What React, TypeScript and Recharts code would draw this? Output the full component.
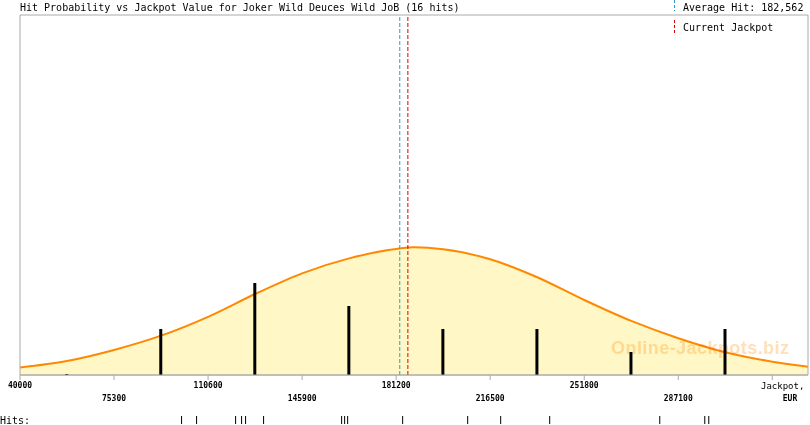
import React from "react";
import {
  ComposedChart,
  Area,
  Bar,
  XAxis,
  YAxis,
  ReferenceLine,
  ReferenceArea,
} from "recharts";

// jackpot axis
const X_MIN = 40000;
const X_MAX = 335800;
const X_TICKS = [40000, 75300, 110600, 145900, 181200, 216500, 251800, 287100, 322400];

// probability curve (in hit units)
const CURVE_X = [
  40000, 57650, 75300, 92950, 110600, 128250, 145900, 163550, 181200, 187800,
  198850, 216500, 234150, 251800, 269450, 287100, 304750, 322400, 335800,
];
const CURVE_P = [
  0.33, 0.61, 1.09, 1.71, 2.53, 3.52, 4.42, 5.07, 5.48, 5.55,
  5.47, 5.03, 4.25, 3.26, 2.35, 1.6, 0.99, 0.58, 0.36,
];

// histogram of hits per bin
const BIN_CENTERS = [57650, 92950, 128250, 163550, 198850, 234150, 269450, 304750];
const BIN_HITS = [0, 2, 4, 3, 2, 2, 1, 2];

// individual hits
const HIT_VALUES = [
  100650, 106280, 120930, 123180, 124680, 131440, 160730, 161860, 162990,
  183640, 208050, 220440, 238840, 280150, 297050, 298550,
];

const AVERAGE_HIT = 182562;
const CURRENT_JACKPOT = 185600;
const Y_MAX = 15.65;

const data = CURVE_X.map((x, i) => {
  const b = BIN_CENTERS.indexOf(x);
  return { x, p: CURVE_P[i], hits: b >= 0 ? BIN_HITS[b] : undefined };
});

const MONO = "'DejaVu Sans Mono', monospace";
const GRAY = "#aaaaaa";

function JackpotTick(props: any) {
  const { x, y, payload } = props;
  const i = X_TICKS.indexOf(payload.value);
  if (i === X_TICKS.length - 1) return null;
  return (
    <text
      x={x}
      y={y + (i % 2 === 0 ? 6 : 18.5)}
      textAnchor="middle"
      fontFamily={MONO}
      fontSize={8}
      fontWeight="bold"
      fill="#000"
    >
      {payload.value}
    </text>
  );
}

function HitTick(props: any) {
  const { x } = props;
  return <line x1={x} x2={x} y1={416} y2={424} stroke="#000" strokeWidth={1} />;
}

export default function App() {
  return (
    <div style={{ position: "relative", width: 810, height: 425, background: "#fff" }}>
      <style>{"body{margin:0}"}</style>
      <ComposedChart
        width={810}
        height={425}
        data={data}
        margin={{ top: 15, right: 2, bottom: 0, left: 20 }}
      >
        <XAxis
          dataKey="x"
          type="number"
          domain={[X_MIN, X_MAX]}
          ticks={X_TICKS}
          interval={0}
          height={35}
          tickSize={5}
          tickMargin={2}
          stroke={GRAY}
          tick={<JackpotTick />}
          allowDataOverflow
        />
        <XAxis
          xAxisId="hits"
          dataKey="x"
          type="number"
          domain={[X_MIN, X_MAX]}
          ticks={HIT_VALUES}
          interval={0}
          height={15}
          axisLine={false}
          tickLine={false}
          tick={<HitTick />}
          allowDataOverflow
        />
        <YAxis hide domain={[0, Y_MAX]} allowDataOverflow />
        <Area
          type="monotone"
          dataKey="p"
          stroke="#ff8800"
          strokeWidth={2}
          fill="#fff8c6"
          fillOpacity={1}
          dot={false}
          activeDot={false}
          isAnimationActive={false}
        />
        <Bar
          dataKey="hits"
          fill="#000"
          barSize={3}
          minPointSize={(v: any) => (v === 0 ? 1 : 0)}
          isAnimationActive={false}
        />
        <ReferenceLine x={AVERAGE_HIT} stroke="#3399cc" strokeDasharray="4 2" />
        <ReferenceLine x={CURRENT_JACKPOT} stroke="#e00000" strokeDasharray="4 2" />
        <ReferenceArea
          x1={X_MIN}
          x2={X_MAX}
          y1={0}
          y2={Y_MAX}
          fill="none"
          stroke={GRAY}
          ifOverflow="visible"
        />
        <text x={20} y={11} fontFamily={MONO} fontSize={10} fill="#000">
          Hit Probability vs Jackpot Value for Joker Wild Deuces Wild JoB (16 hits)
        </text>
        <line x1={674.5} x2={674.5} y1={0} y2={11} stroke="#3399cc" strokeDasharray="3 2" />
        <text x={683} y={11} fontFamily={MONO} fontSize={10} fill="#000">
          Average Hit: 182,562
        </text>
        <line x1={674.5} x2={674.5} y1={20} y2={34} stroke="#e00000" strokeDasharray="3 2" />
        <text x={683} y={31} fontFamily={MONO} fontSize={10} fill="#000">
          Current Jackpot
        </text>
        <text x={761} y={389} fontFamily={MONO} fontSize={9} fill="#000">
          Jackpot,
        </text>
        <text x={790} y={400.5} textAnchor="middle" fontFamily={MONO} fontSize={8} fontWeight="bold" fill="#000">
          EUR
        </text>
        <text x={0} y={424} fontFamily={MONO} fontSize={10} fill="#000">
          Hits:
        </text>
      </ComposedChart>
      <svg
        width={810}
        height={425}
        style={{ position: "absolute", left: 0, top: 0, pointerEvents: "none", mixBlendMode: "multiply" }}
      >
        <text
          x={700}
          y={354}
          textAnchor="middle"
          fontFamily="'Liberation Sans', Arial, sans-serif"
          fontWeight="bold"
          fontSize={18}
          textLength={178}
          fill="#ffe0b8"
        >
          Online-Jackpots.biz
        </text>
      </svg>
    </div>
  );
}
